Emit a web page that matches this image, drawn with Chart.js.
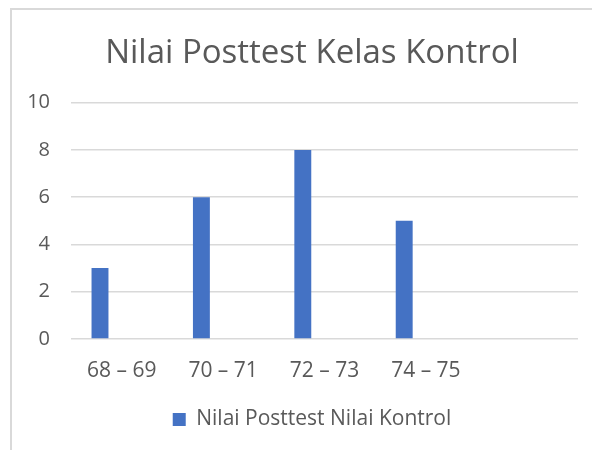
<!DOCTYPE html>
<html>
<head>
<meta charset="utf-8">
<script src="https://cdn.jsdelivr.net/npm/chart.js@4"></script>
<style>
  html, body { margin: 0; padding: 0; background: #fff; overflow: hidden; }
  #wrap { position: relative; width: 592px; height: 450px; overflow: hidden; }
  #frame { position: absolute; left: 10px; top: 8px; width: 640px; height: 480px;
           border-top: 2px solid #d9d9d9; border-left: 2px solid #d9d9d9; }
  canvas { position: absolute; left: 0; top: 0; }
</style>
</head>
<body>
<div id="wrap">
  <div id="frame"></div>
  <canvas id="myChart" width="624" height="450"></canvas>
</div>
<script>
const categories = ['68 – 69', '70 – 71', '72 – 73', '74 – 75', ''];
const values = [3, 6, 8, 5, null];
const blank = [null, null, null, null, null];
const yTicks = [0, 2, 4, 6, 8, 10];

const grey = '#595959';
const font = "'Open Sans', 'Liberation Sans', sans-serif";

const ctx = document.getElementById('myChart');

new Chart(ctx, {
  type: 'bar',
  data: {
    labels: categories,
    datasets: [
      {
        label: 'Nilai Posttest Nilai Kontrol',
        data: values,
        backgroundColor: '#4472c4',
        categoryPercentage: 0.856,
        barPercentage: 0.39
      },
      {
        // empty second series, keeps the bars left of the category centre
        label: '',
        data: blank,
        backgroundColor: '#ed7d31',
        categoryPercentage: 0.856,
        barPercentage: 0.39
      }
    ]
  },
  options: {
    responsive: false,
    animation: false,
    layout: { padding: { left: 0, right: 0, top: 0, bottom: 10 } },
    plugins: {
      title: {
        display: true,
        text: 'Nilai Posttest Kelas Kontrol',
        color: grey,
        font: { family: font, size: 33, weight: 'normal' },
        padding: { top: 34, bottom: 29 }
      },
      legend: {
        position: 'bottom',
        labels: {
          color: grey,
          font: { family: font, size: 21 },
          boxWidth: 13,
          boxHeight: 13,
          padding: 10,
          filter: item => item.text !== ''
        }
      },
      tooltip: { enabled: false }
    },
    scales: {
      x: {
        grid: { display: false, drawTicks: false },
        border: { display: false },
        ticks: { color: grey, font: { family: font, size: 21 }, padding: 19, maxRotation: 0 },
        afterFit: s => { s.height = 60; }
      },
      y: {
        min: 0,
        max: 10,
        afterBuildTicks: s => { s.ticks = yTicks.map(v => ({ value: v })); },
        grid: { color: '#d9d9d9', lineWidth: 1.5, drawTicks: false },
        border: { display: false },
        ticks: { color: grey, font: { family: font, size: 20 }, padding: 21 },
        afterFit: s => { s.width = 71; }
      },
      // empty right-hand space so the title and legend centre like the original frame
      pad: {
        type: 'linear',
        position: 'right',
        display: true,
        grid: { display: false, drawTicks: false },
        border: { display: false },
        ticks: { display: false },
        afterFit: s => { s.width = 46; }
      }
    }
  }
});
</script>
</body>
</html>
